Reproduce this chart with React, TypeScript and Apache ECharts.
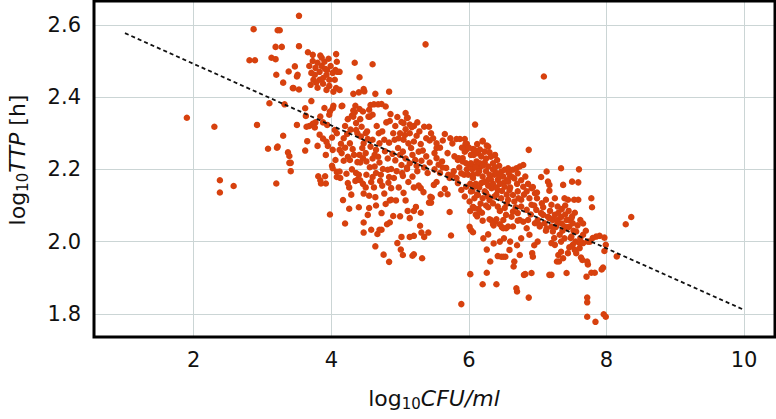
import { useEffect, useRef } from "react";
import * as echarts from "echarts";

const xTicks = [2, 4, 6, 8, 10];
const yTicks = [1.8, 2.0, 2.2, 2.4, 2.6];
const xRange = [0.55, 10.45];
const yRange = [1.736, 2.666];

// fitted regression line (log10 TTP vs log10 CFU/ml)
const fitLine: [number, number][] = [
  [1, 2.577],
  [10, 1.811],
];

const leftOutliers: [number, number][] = [
  [1.9, 2.343], [2.3, 2.318], [2.38, 2.17], [2.38, 2.136], [2.58, 2.154], [2.81, 2.502], [2.87, 2.588],
  [2.89, 2.502], [2.92, 2.323], [3.08, 2.257], [3.1, 2.383], [3.13, 2.509], [3.19, 2.505], [3.19, 2.539],
  [3.2, 2.462], [3.2, 2.161], [3.21, 2.26], [3.22, 2.585], [3.25, 2.585], [3.28, 2.539], [3.3, 2.44],
  [3.3, 2.293], [3.32, 2.38], [3.37, 2.247], [3.38, 2.471], [3.39, 2.237], [3.39, 2.218], [3.41, 2.218],
  [3.41, 2.195], [3.45, 2.425], [3.47, 2.485], [3.5, 2.323], [3.5, 2.457], [3.51, 2.462], [3.53, 2.625],
  [3.53, 2.541], [3.53, 2.421], [3.44, 2.425], [3.22, 2.263],
];

const upperCluster: [number, number][] = [
  [3.62, 2.369], [3.63, 2.348], [3.65, 2.278], [3.62, 2.252], [3.66, 2.524], [3.73, 2.517], [3.68, 2.32],
  [3.71, 2.389], [3.73, 2.5], [3.8, 2.495], [3.86, 2.486], [3.77, 2.481], [3.9, 2.498], [3.94, 2.475],
  [3.99, 2.486], [3.83, 2.47], [3.71, 2.467], [3.93, 2.462], [4.02, 2.467], [4.05, 2.448], [3.83, 2.448],
  [3.74, 2.448], [3.88, 2.437], [3.97, 2.431], [3.7, 2.434], [3.8, 2.426], [3.93, 2.42], [4.03, 2.415],
  [4.06, 2.475], [3.96, 2.506], [3.86, 2.509], [4.08, 2.498], [3.76, 2.462], [3.97, 2.448], [3.68, 2.486],
  [3.88, 2.453], [4.07, 2.519], [4.09, 2.47], [4.12, 2.47], [4.07, 2.425], [4.12, 2.42], [3.84, 2.515],
  [3.91, 2.478], [3.78, 2.44], [3.64, 2.318], [3.73, 2.326],
];

const leftBand: [number, number][] = [
  [3.77, 2.33], [3.76, 2.316], [3.84, 2.346], [3.88, 2.33], [3.9, 2.37], [3.97, 2.351], [4.03, 2.376],
  [3.94, 2.323], [4.05, 2.309], [3.83, 2.296], [3.93, 2.276], [4.02, 2.254], [3.92, 2.24], [3.8, 2.265],
  [4.06, 2.226], [3.88, 2.285], [3.95, 2.265], [4.01, 2.288], [3.98, 2.36], [4.01, 2.21], [3.81, 2.181],
  [3.84, 2.17], [3.85, 2.161], [3.91, 2.181], [3.92, 2.161], [3.98, 2.075], [4.08, 2.193], [4.08, 2.179],
];

const midUpper: [number, number][] = [
  [4.34, 2.495], [4.6, 2.491], [4.41, 2.455], [4.32, 2.409], [4.4, 2.413], [4.47, 2.422], [4.64, 2.409],
  [4.84, 2.415], [4.15, 2.375], [4.35, 2.376], [4.34, 2.358], [4.41, 2.367], [4.57, 2.378], [4.62, 2.38],
  [4.68, 2.38], [4.73, 2.381], [4.79, 2.374], [4.55, 2.365], [4.54, 2.346], [4.6, 2.351], [4.86, 2.353],
  [4.85, 2.334], [4.24, 2.339], [4.3, 2.349], [5.08, 2.356], [5.11, 2.343], [5.02, 2.331], [5.05, 2.328],
  [4.93, 2.32], [5.14, 2.324], [5.2, 2.32], [5.35, 2.318], [5.42, 2.318], [5.37, 2.546], [5.65, 2.298],
  [6.09, 2.324], [4.48, 2.416], [4.16, 2.376], [4.02, 2.369], [4.32, 2.363], [4.46, 2.36], [4.56, 2.346],
  [4.42, 2.339], [4.32, 2.346], [4.36, 2.328], [5.1, 2.342], [5.17, 2.317], [5.08, 2.311],
];

const midBand: [number, number][] = [
  [5.14, 2.3], [5.24, 2.293], [5.2, 2.277], [5.38, 2.286], [5.43, 2.28], [5.48, 2.286], [5.53, 2.272],
  [5.53, 2.259], [5.73, 2.286], [5.76, 2.272], [5.82, 2.284], [5.87, 2.284], [5.94, 2.284], [5.97, 2.271],
  [4.08, 2.3], [4.14, 2.271], [4.12, 2.254], [4.18, 2.286], [4.23, 2.298], [4.27, 2.272], [4.31, 2.256],
  [4.24, 2.235], [4.18, 2.224], [4.27, 2.226], [4.36, 2.309], [4.43, 2.291], [4.5, 2.3], [4.47, 2.272],
  [4.45, 2.259], [4.53, 2.284], [4.57, 2.263], [4.6, 2.282], [4.69, 2.3], [4.7, 2.272], [4.65, 2.254],
  [4.63, 2.24], [4.77, 2.282], [4.84, 2.274], [4.92, 2.282], [4.98, 2.286], [5.05, 2.282], [4.97, 2.259],
  [4.89, 2.243], [5.04, 2.249], [5.12, 2.272], [5.16, 2.259], [4.41, 2.24], [4.46, 2.231], [4.42, 2.219],
  [4.51, 2.222], [4.56, 2.206], [4.63, 2.208], [4.7, 2.219], [4.75, 2.201], [4.82, 2.199], [4.87, 2.201],
  [5.02, 2.212], [5.1, 2.201], [5.14, 2.217], [5.22, 2.226], [5.27, 2.249], [5.33, 2.252], [5.38, 2.236],
  [5.31, 2.224], [5.43, 2.219], [5.53, 2.231], [5.56, 2.213], [5.61, 2.222], [5.67, 2.204], [5.69, 2.245],
  [5.79, 2.236], [5.84, 2.226], [5.91, 2.231], [5.96, 2.254], [6.01, 2.213], [6.07, 2.24], [6.11, 2.222],
  [6.15, 2.204], [4.02, 2.203], [4.12, 2.194], [4.22, 2.188], [4.51, 2.185], [4.6, 2.179], [4.84, 2.179],
  [5.04, 2.182], [5.72, 2.176], [6.06, 2.185], [6.2, 2.279], [6.26, 2.266], [6.06, 2.256],
  [5.27, 2.155], [5.3, 2.148], [5.34, 2.137], [5.46, 2.122], [5.49, 2.157], [5.53, 2.165], [5.59, 2.131],
  [5.65, 2.146], [5.69, 2.131], [5.76, 2.185], [5.82, 2.176], [5.03, 2.19], [5.1, 2.205], [5.18, 2.18],
  [5.25, 2.195], [5.5, 2.2], [5.58, 2.19], [5.62, 2.205], [5.7, 2.185], [5.78, 2.195], [5.86, 2.205],
  [5.93, 2.185], [5.97, 2.2],
];

const midFill: [number, number][] = [
  [4.2, 2.32], [4.28, 2.31], [4.38, 2.3], [4.44, 2.318], [4.52, 2.305], [4.66, 2.32], [4.74, 2.305],
  [4.8, 2.33], [4.9, 2.3], [4.96, 2.345], [5.0, 2.3], [5.07, 2.295], [5.25, 2.33], [5.28, 2.305],
  [5.3, 2.27], [5.45, 2.3], [5.5, 2.245], [5.58, 2.26], [5.62, 2.28], [4.15, 2.245], [4.2, 2.26],
  [4.33, 2.24], [4.38, 2.22], [4.5, 2.245], [4.6, 2.23], [4.68, 2.235], [4.78, 2.25], [4.82, 2.23],
  [4.93, 2.225], [5.0, 2.24], [5.08, 2.23], [5.18, 2.24], [5.24, 2.21], [5.35, 2.205], [5.4, 2.19],
  [4.3, 2.2], [4.36, 2.19], [4.65, 2.19], [4.72, 2.185], [4.95, 2.195], [5.12, 2.165], [5.2, 2.15],
  [4.29, 2.13], [4.62, 2.15], [4.98, 2.15], [5.05, 2.135], [4.4, 2.095], [4.65, 2.1], [5.0, 2.07],
  [4.2, 2.05],
];

const midLower: [number, number][] = [
  [4.17, 2.115], [4.26, 2.091], [4.24, 2.162], [4.26, 2.15], [4.35, 2.168], [4.38, 2.171], [4.13, 2.176],
  [4.47, 2.133], [4.55, 2.127], [4.64, 2.123], [4.58, 2.165], [4.71, 2.168], [4.74, 2.155], [4.83, 2.163],
  [4.87, 2.148], [4.91, 2.176], [4.77, 2.133], [4.85, 2.114], [4.94, 2.114], [5.08, 2.114], [4.55, 2.093],
  [4.53, 2.074], [4.73, 2.079], [4.9, 2.071], [4.81, 2.048], [4.85, 2.053], [4.47, 2.053], [4.47, 2.025],
  [4.58, 2.033], [4.67, 2.021], [4.7, 2.033], [4.73, 2.033], [5.11, 2.085], [5.14, 2.065], [5.23, 2.096],
  [5.29, 2.044], [5.02, 2.013], [5.14, 2.013], [5.2, 2.016], [5.31, 2.025], [5.35, 2.013], [5.41, 2.025],
  [4.96, 1.996], [4.64, 1.987], [5.01, 1.978], [5.04, 1.963], [4.76, 1.964], [4.84, 1.944], [5.18, 1.961],
  [5.2, 1.965], [5.32, 1.954], [5.42, 2.108], [5.45, 2.108], [5.44, 2.124], [5.72, 2.082], [5.74, 2.017],
  [4.79, 2.104], [4.87, 2.116], [4.42, 2.17], [4.46, 2.16], [4.4, 2.185], [4.5, 2.15], [5.2, 2.085],
  [5.3, 2.08],
];

const lowScatter: [number, number][] = [
  [5.89, 1.827], [6.02, 1.91], [6.2, 1.882], [6.4, 1.882], [6.26, 1.914], [6.31, 1.945], [6.26, 1.978],
  [6.36, 1.995], [6.42, 1.96], [6.47, 1.958], [6.01, 2.041], [6.06, 2.026], [6.03, 2.032], [6.21, 2.009],
  [6.28, 2.02], [6.02, 2.085], [6.06, 2.096], [6.1, 2.075], [6.14, 2.09], [6.19, 2.08], [6.12, 2.07],
  [6.32, 2.06], [6.38, 2.055], [6.45, 2.048], [6.48, 2.04], [6.36, 2.045],
];

const rightCore: [number, number][] = [
  [6.2, 2.277], [6.28, 2.263], [6.08, 2.254], [6.13, 2.245], [6.23, 2.249], [6.3, 2.247], [6.18, 2.236],
  [6.03, 2.24], [5.94, 2.249], [6.87, 2.254], [5.85, 2.231], [5.91, 2.222], [5.96, 2.217], [6.03, 2.217],
  [6.09, 2.208], [6.16, 2.217], [6.23, 2.219], [6.28, 2.208], [6.35, 2.217], [6.41, 2.226], [5.89, 2.189],
  [5.99, 2.185], [6.06, 2.176], [6.13, 2.189], [6.2, 2.18], [6.28, 2.171], [6.18, 2.162], [6.37, 2.185],
  [6.47, 2.194], [6.52, 2.199], [6.57, 2.203], [6.64, 2.199], [6.69, 2.203], [6.74, 2.208], [6.79, 2.212],
  [6.71, 2.189], [6.62, 2.18], [6.57, 2.166], [6.5, 2.162], [6.42, 2.171], [5.84, 2.162], [5.89, 2.143],
  [5.96, 2.152], [6.03, 2.139], [6.08, 2.152], [5.94, 2.125], [6.01, 2.111], [6.13, 2.129], [6.23, 2.139],
  [6.33, 2.148], [6.28, 2.125], [6.37, 2.125], [6.42, 2.143], [6.52, 2.152], [6.59, 2.143], [6.64, 2.129],
  [6.71, 2.139], [6.79, 2.152], [6.84, 2.139], [6.91, 2.148], [6.96, 2.134], [6.88, 2.12], [6.76, 2.116],
  [6.66, 2.111], [6.57, 2.116], [6.47, 2.12], [6.05, 2.2], [6.1, 2.205], [6.15, 2.195], [6.2, 2.21],
  [6.25, 2.195], [6.3, 2.185], [6.35, 2.2], [6.4, 2.19], [6.45, 2.18], [6.1, 2.16], [6.15, 2.15],
  [6.22, 2.165], [6.28, 2.155], [6.35, 2.16], [6.4, 2.15], [6.45, 2.16], [6.05, 2.14], [6.12, 2.13],
  [6.2, 2.12], [6.25, 2.135], [6.3, 2.115], [6.4, 2.13], [6.48, 2.14], [6.55, 2.17], [6.6, 2.18],
  [6.55, 2.13], [6.6, 2.15],
];

const rightFill: [number, number][] = [
  [6.02, 2.16], [6.08, 2.12], [6.17, 2.105], [6.25, 2.1], [6.32, 2.172], [6.38, 2.205], [6.44, 2.21],
  [6.5, 2.18], [6.58, 2.19], [6.66, 2.175], [6.7, 2.16], [6.76, 2.17], [6.82, 2.18], [6.86, 2.16],
  [6.68, 2.095], [6.72, 2.12], [6.8, 2.13], [6.9, 2.075], [6.95, 2.1], [7.0, 2.06], [7.08, 2.095],
  [7.12, 2.03], [7.18, 2.085], [7.24, 2.01], [7.34, 2.0], [7.4, 2.1], [7.46, 2.06], [7.54, 2.08],
  [7.62, 2.06], [7.66, 2.05], [7.7, 2.03], [7.62, 2.01], [7.35, 2.05], [7.0, 2.0], [6.95, 1.99],
  [6.6, 2.0], [6.45, 2.0], [6.7, 1.99], [6.55, 2.105], [6.45, 2.085], [5.95, 2.27], [6.0, 2.26],
  [6.12, 2.27], [6.16, 2.255], [5.9, 2.26], [6.25, 2.23], [6.32, 2.235], [6.38, 2.24],
];

const rightBand: [number, number][] = [
  [7.13, 2.194], [7.34, 2.203], [7.6, 2.2], [7.05, 2.179], [7.15, 2.166], [7.17, 2.157], [7.37, 2.157],
  [7.5, 2.166], [7.59, 2.164], [6.99, 2.12], [7.06, 2.106], [7.12, 2.116], [7.2, 2.102], [7.25, 2.12],
  [7.29, 2.097], [7.39, 2.12], [7.44, 2.116], [7.53, 2.116], [7.59, 2.116], [7.78, 2.12], [7.79, 2.095],
  [6.91, 2.102], [6.98, 2.088], [7.05, 2.079], [7.15, 2.069], [7.22, 2.06], [7.25, 2.074], [7.29, 2.06],
  [7.34, 2.068], [7.42, 2.06], [7.49, 2.065], [6.08, 2.093], [6.16, 2.083], [6.28, 2.095], [6.35, 2.106],
  [6.42, 2.097], [6.52, 2.093], [6.64, 2.083], [6.76, 2.097], [6.84, 2.088], [6.71, 2.079], [6.62, 2.069],
  [6.2, 2.058], [6.3, 2.062], [6.35, 2.049], [6.4, 2.062], [6.5, 2.06], [6.57, 2.042], [6.71, 2.058],
  [6.79, 2.055], [6.86, 2.06], [6.96, 2.051], [7.03, 2.042], [7.1, 2.051], [7.2, 2.042], [7.27, 2.044],
  [7.39, 2.042], [7.46, 2.042], [7.51, 2.051], [7.09, 2.457], [6.93, 2.151], [6.99, 2.136], [7.17, 2.141],
  [7.3, 2.08], [7.35, 2.09], [7.4, 2.075], [7.45, 2.085], [7.5, 2.07], [7.36, 2.03], [7.44, 2.04],
  [7.52, 2.03], [7.58, 2.045], [7.26, 2.04], [7.48, 2.01], [7.55, 2.0],
];

const rightLow: [number, number][] = [
  [8.28, 2.048], [8.36, 2.068], [8.15, 1.959], [7.9, 2.016], [7.97, 2.011], [7.99, 1.991], [7.97, 1.974],
  [7.95, 1.928], [7.93, 1.923], [7.85, 2.014], [7.8, 2.01], [7.76, 2.0], [7.72, 1.845], [7.72, 1.832],
  [7.72, 1.792], [7.84, 1.778], [7.96, 1.799], [7.99, 1.792], [7.78, 1.914], [7.83, 1.914], [7.71, 1.903],
  [7.73, 1.937], [7.72, 1.945], [7.65, 1.949], [7.63, 1.956], [7.56, 1.968], [7.54, 1.977], [7.61, 1.982],
  [7.66, 1.996], [7.51, 1.991], [7.46, 1.984], [7.44, 1.968], [7.37, 1.954], [7.31, 1.945], [7.3, 1.963],
  [7.34, 1.972], [7.28, 1.945], [7.25, 1.991], [7.2, 1.996], [7.17, 1.908], [7.2, 1.908], [7.42, 1.913],
  [6.92, 1.968], [6.93, 1.958], [6.82, 1.91], [6.8, 1.908], [6.91, 1.913], [6.87, 1.845], [6.69, 1.871],
  [6.7, 1.862], [6.66, 1.945], [6.65, 1.931], [6.74, 1.963], [6.59, 1.977], [6.53, 1.958], [6.5, 1.958],
  [6.51, 2.009], [6.54, 2.037], [6.5, 2.037], [7.08, 2.074], [7.17, 2.065], [7.13, 2.037], [7.22, 2.028],
  [7.32, 2.019], [7.39, 2.009], [7.49, 2.014], [7.56, 2.028], [7.66, 2.019], [7.73, 2.0], [7.61, 1.996],
  [7.42, 2.037], [7.29, 2.055], [7.03, 2.046], [6.88, 2.019], [6.76, 2.009], [6.64, 2.042], [6.54, 2.074],
  [6.74, 2.06], [6.84, 2.037],
];

const allPoints = [
  ...leftOutliers,
  ...upperCluster,
  ...leftBand,
  ...midUpper,
  ...midBand,
  ...midFill,
  ...midLower,
  ...lowScatter,
  ...rightCore,
  ...rightFill,
  ...rightBand,
  ...rightLow,
];

const FONT = "DejaVu Sans";
const INK = "#111111";
const DOT = "#d7410e";

export default function App() {
  const ref = useRef<HTMLDivElement>(null);
  useEffect(() => {
    if (!ref.current) return;
    const chart = echarts.init(ref.current, null, { renderer: "svg" });
    chart.setOption({
      animation: false,
      backgroundColor: "#ffffff",
      grid: {
        left: 94,
        right: 1,
        top: 1,
        bottom: 82,
        show: true,
        borderColor: "#000000",
        borderWidth: 3,
        backgroundColor: "transparent",
        z: 10,
      },
      xAxis: {
        type: "value",
        min: xRange[0],
        max: xRange[1],
        axisLine: { show: false },
        axisTick: { show: false, customValues: xTicks },
        axisLabel: {
          customValues: xTicks,
          fontFamily: FONT,
          fontSize: 21,
          color: INK,
          margin: 12,
          formatter: (v: number) => String(v),
        },
        splitLine: { show: true, lineStyle: { color: "#cbd5d5", width: 1 } },
      },
      yAxis: {
        type: "value",
        min: yRange[0],
        max: yRange[1],
        axisLine: { show: false },
        axisTick: { show: false, customValues: yTicks },
        axisLabel: {
          customValues: yTicks,
          fontFamily: FONT,
          fontSize: 21,
          color: INK,
          margin: 13,
          formatter: (v: number) => v.toFixed(1),
        },
        splitLine: { show: true, lineStyle: { color: "#cbd5d5", width: 1 } },
      },
      graphic: [
        {
          type: "text",
          x: 434,
          y: 398,
          style: {
            text: "{a|log}{s|10}{b|CFU/ml}",
            align: "center",
            verticalAlign: "middle",
            rich: {
              a: { fontFamily: FONT, fontSize: 22, fill: INK, lineHeight: 30 },
              s: { fontFamily: FONT, fontSize: 15, fill: INK, padding: [12, 0, 0, 0], lineHeight: 30 },
              b: { fontFamily: FONT, fontSize: 22, fill: INK, fontStyle: "italic", lineHeight: 30 },
            },
          },
        },
        {
          type: "text",
          x: 17,
          y: 160,
          rotation: Math.PI / 2,
          style: {
            text: "{a|log}{s|10}{b|TTP}{a| [h]}",
            align: "center",
            verticalAlign: "middle",
            rich: {
              a: { fontFamily: FONT, fontSize: 22, fill: INK, lineHeight: 30 },
              s: { fontFamily: FONT, fontSize: 15, fill: INK, padding: [12, 0, 0, 0], lineHeight: 30 },
              b: { fontFamily: FONT, fontSize: 22, fill: INK, fontStyle: "italic", lineHeight: 30 },
            },
          },
        },
      ],
      series: [
        {
          type: "scatter",
          data: allPoints,
          symbolSize: 6.5,
          itemStyle: { color: DOT, opacity: 1 },
          silent: true,
        },
        {
          type: "line",
          data: fitLine,
          symbol: "none",
          lineStyle: { color: "#111111", width: 1.8, type: [4, 3] },
          silent: true,
          z: 5,
        },
      ],
    });
    return () => chart.dispose();
  }, []);
  return (
    <div
      ref={ref}
      style={{ position: "absolute", left: 0, top: 0, width: 776, height: 419 }}
    />
  );
}
